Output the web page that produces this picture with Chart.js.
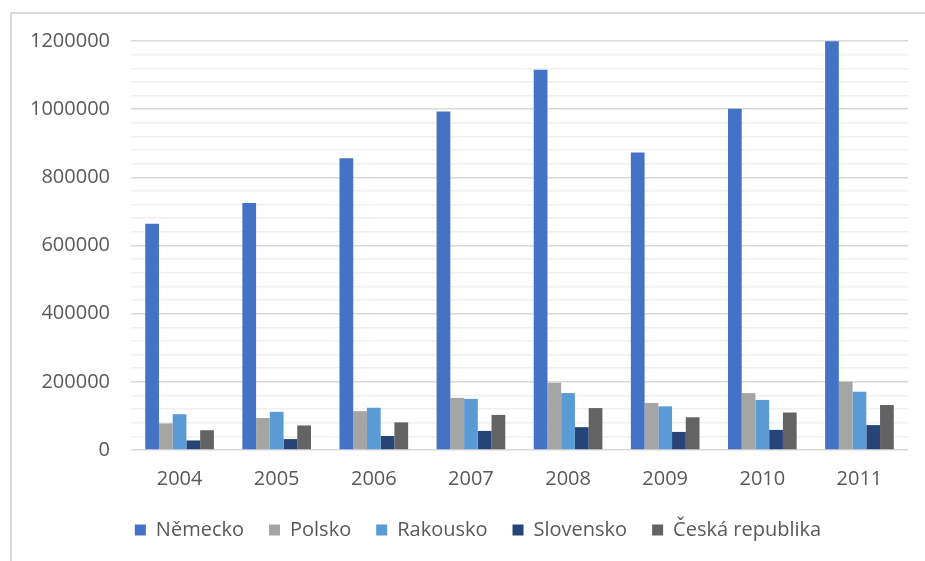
<!DOCTYPE html>
<html>
<head>
<meta charset="utf-8">
<script src="https://cdn.jsdelivr.net/npm/chart.js@4"></script>
<style>
  html, body { margin: 0; padding: 0; background: #fff; }
  #wrap { position: relative; width: 925px; height: 561px; overflow: hidden; }
  #frame {
    position: absolute; left: 10px; top: 12px; width: 1000px; height: 700px;
    border-left: 2px solid #d9d9d9; border-top: 2px solid #d9d9d9;
    pointer-events: none;
  }
</style>
</head>
<body>
<div id="wrap">
  <canvas id="chart" width="925" height="561"></canvas>
  <div id="frame"></div>
</div>
<script>
const years = ["2004", "2005", "2006", "2007", "2008", "2009", "2010", "2011"];
const nemecko = [664000, 725000, 856000, 993000, 1116000, 873000, 1001000, 1199000];
const polsko = [78000, 94000, 114000, 153000, 197000, 138000, 167000, 200000];
const rakousko = [105000, 112000, 124000, 150000, 167000, 128000, 147000, 171000];
const slovensko = [28000, 32000, 41000, 56000, 67000, 53000, 59000, 73000];
const ceska = [58000, 72000, 81000, 103000, 123000, 96000, 110000, 132000];

const textColor = "#595959";
const font = { family: "'Open Sans', sans-serif", size: 20 };

function series(label, data, color) {
  return {
    label: label,
    data: data,
    backgroundColor: color,
    borderWidth: 0,
    categoryPercentage: 0.707,
    barPercentage: 1.0
  };
}

// shift the legend to the right so it sits centred like the original
const legendShift = {
  id: "legendShift",
  afterLayout(chart) {
    if (chart.legend) {
      chart.legend.left += 48;
    }
  }
};

const ctx = document.getElementById("chart").getContext("2d");
const chart = new Chart(ctx, {
  type: "bar",
  data: {
    labels: years,
    datasets: [
      series("Německo", nemecko, "#4472c4"),
      series("Polsko", polsko, "#a5a5a5"),
      series("Rakousko", rakousko, "#5b9bd5"),
      series("Slovensko", slovensko, "#264478"),
      series("Česká republika", ceska, "#636363")
    ]
  },
  plugins: [legendShift],
  options: {
    responsive: false,
    animation: false,
    layout: { padding: { left: 0, right: 17, top: 41, bottom: 11 } },
    plugins: {
      tooltip: { enabled: false },
      legend: {
        position: "bottom",
        labels: {
          color: textColor,
          font: font,
          boxWidth: 11,
          boxHeight: 11,
          padding: 25
        }
      }
    },
    scales: {
      x: {
        grid: { display: false, drawTicks: false },
        border: { display: false },
        ticks: { color: textColor, font: font, padding: 17 },
        afterFit: scale => { scale.height = 45; }
      },
      y: {
        min: 0,
        max: 1200000,
        border: { display: false },
        grid: {
          drawTicks: false,
          lineWidth: 1.5,
          color: c => (c.tick && c.tick.value % 200000 === 0) ? "#d9d9d9" : "#f0f0f0"
        },
        ticks: {
          stepSize: 40000,
          color: textColor,
          font: font,
          padding: 21,
          autoSkip: false,
          callback: v => (v % 200000 === 0) ? String(v) : ""
        },
        afterFit: scale => { scale.width = 131; }
      }
    }
  }
});
</script>
</body>
</html>
